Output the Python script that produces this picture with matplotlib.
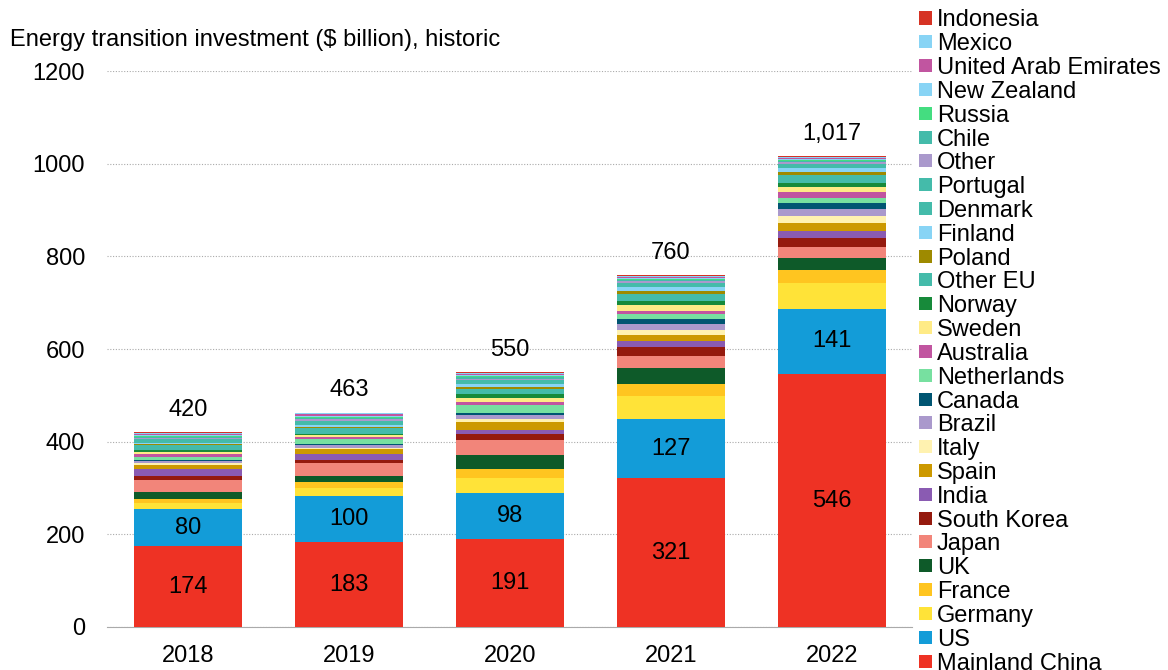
import numpy as np
import matplotlib.pyplot as plt
from matplotlib.patches import Rectangle

plt.rcParams['font.family'] = ['Liberation Sans', 'DejaVu Sans']

years = ['2018', '2019', '2020', '2021', '2022']

# stacked bottom -> top
series = ['Mainland China', 'US', 'Germany', 'France', 'UK', 'Japan', 'South Korea',
          'India', 'Spain', 'Italy', 'Brazil', 'Canada', 'Netherlands', 'Australia',
          'Sweden', 'Norway', 'Other EU', 'Poland', 'Finland', 'Denmark', 'Portugal',
          'Other', 'Chile', 'Russia', 'New Zealand', 'United Arab Emirates', 'Mexico',
          'Indonesia']

china = [174, 183, 191, 321, 546]
us = [80, 100, 98, 127, 141]
germany = [14, 16, 32, 50, 55]
france = [9, 13, 21, 27, 28]
uk = [14, 14, 29, 34, 27]
japan = [27, 27, 33, 27, 23]
south_korea = [9, 7, 13, 18, 19]
india = [13, 13, 9, 13, 16]
spain = [10, 11, 16, 13, 18]
italy = [4, 2, 7, 12, 15]
brazil = [5, 6, 9, 12, 14]
canada = [2, 2, 5, 10, 13]
netherlands = [6, 11, 17, 12, 12]
australia = [7, 5, 6, 7, 12]
sweden = [4, 4, 8, 11, 11]
norway = [3, 3, 8, 9, 9]
other_eu = [12, 13, 12, 16, 16]
poland = [1, 2, 5, 6, 7]
finland = [3, 4, 5, 9, 8]
denmark = [5, 6, 6, 5, 5]
portugal = [3, 3, 3, 4, 5]
other = [4, 5, 3, 3, 3]
chile = [2, 2, 3, 3, 3]
russia = [1, 1, 2, 2, 2]
new_zealand = [2, 2, 2, 2, 2]
uae = [3, 4, 3, 3, 3]
mexico = [2, 3, 2, 2, 2]
indonesia = [1, 1, 2, 2, 2]

totals = [420, 463, 550, 760, 1017]

values = [china, us, germany, france, uk, japan, south_korea, india, spain, italy,
          brazil, canada, netherlands, australia, sweden, norway, other_eu, poland,
          finland, denmark, portugal, other, chile, russia, new_zealand, uae, mexico,
          indonesia]

colors = ['#EE3224', '#139CD8', '#FFE338', '#FFC520', '#0E5A29', '#F2857A', '#951A0E',
          '#8A5BB2', '#CC9900', '#FFF2B0', '#AA99CC', '#005572', '#77E0A0', '#C155A0',
          '#FFEB86', '#178A3A', '#44BBAA', '#9E8A00', '#88D4F5', '#44BBAA', '#44BBAA',
          '#AA99CC', '#44BBAA', '#44DD80', '#88D4F5', '#C155A0', '#88D4F5', '#D63324']

W, H = 1168, 670
fig = plt.figure(figsize=(W / 100, H / 100), dpi=100)
ax = fig.add_axes([0.092, 0.0642, 0.689, 0.8297])

x = np.arange(len(years))
bottom = np.zeros(len(years))
for name, vals, c in zip(series, values, colors):
    ax.bar(x, vals, 0.67, bottom=bottom, color=c, label=name, zorder=3)
    bottom += np.array(vals)

for i in range(len(years)):
    ax.text(x[i], china[i] / 2, str(china[i]), ha='center', va='center', fontsize=17, zorder=4)
    ax.text(x[i], china[i] + us[i] / 2, str(us[i]), ha='center', va='center', fontsize=17, zorder=4)
    ax.text(x[i], totals[i] + 24, f'{totals[i]:,}', ha='center', va='bottom', fontsize=17)

ax.set_xlim(-0.5, 4.5)
ax.set_ylim(0, 1200)
ax.set_yticks(range(0, 1201, 200))
ax.set_xticks(x)
ax.set_xticklabels(years)
ax.tick_params(axis='both', length=0, labelsize=17)
ax.tick_params(axis='y', pad=16)
ax.tick_params(axis='x', pad=13)
ax.grid(axis='y', color='#AAAAAA', linestyle=(0, (1, 1.5)), linewidth=0.8, zorder=0)
for s in ['left', 'right', 'top']:
    ax.spines[s].set_visible(False)
ax.spines['bottom'].set_color('#AAAAAA')

fig.text(10 / W, 1 - 40 / H, 'Energy transition investment ($ billion), historic', fontsize=17,
         va='center', ha='left')

# legend drawn by hand, top entry = last series
top_y, step = 18, (661 - 18) / (len(series) - 1)
for k, (name, c) in enumerate(zip(series[::-1], colors[::-1])):
    yc = top_y + k * step
    fig.add_artist(Rectangle((919 / W, 1 - (yc + 6.5) / H), 13 / W, 13 / H,
                             facecolor=c, edgecolor='none', transform=fig.transFigure))
    fig.text(937 / W, 1 - yc / H, name, fontsize=17, va='center_baseline', ha='left')

fig.savefig('out.png', dpi=100)
